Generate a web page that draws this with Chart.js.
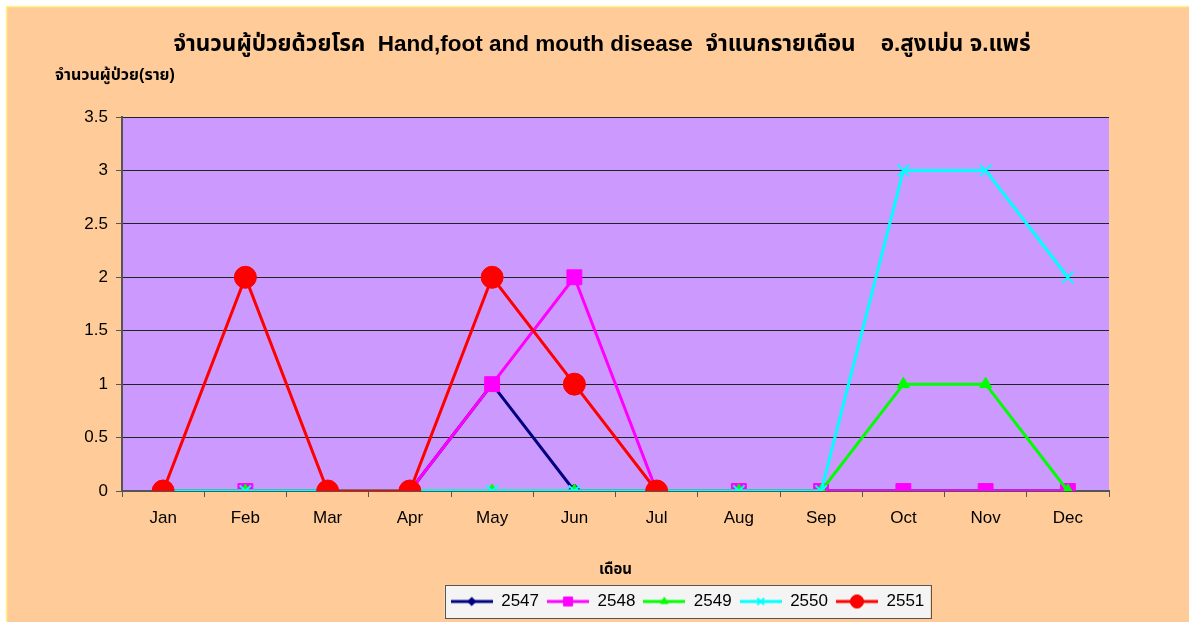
<!DOCTYPE html>
<html>
<head>
<meta charset="utf-8">
<script src="https://cdn.jsdelivr.net/npm/chart.js@4.4.1/dist/chart.umd.min.js"></script>
<style>
  html, body { margin: 0; padding: 0; background: #fff; }
  #wrap { width: 1189px; height: 622px; }
</style>
</head>
<body>
<div id="wrap"><canvas id="chart" width="1189" height="622"></canvas></div>
<script>
// data
const months = ["Jan", "Feb", "Mar", "Apr", "May", "Jun", "Jul", "Aug", "Sep", "Oct", "Nov", "Dec"];
const years = ["2547", "2548", "2549", "2550", "2551"];
const y2547 = [0, 0, 0, 0, 1, 0, 0, 0, 0, 0, 0, 0];
const y2548 = [0, 0, 0, 0, 1, 2, 0, 0, 0, 0, 0, 0];
const y2549 = [0, 0, 0, 0, 0, 0, 0, 0, 0, 1, 1, 0];
const y2550 = [0, 0, 0, 0, 0, 0, 0, 0, 0, 3, 3, 2];
const y2551 = [0, 2, 0, 0, 2, 1, 0, null, null, null, null, null];

const titleText = "จำนวนผู้ป่วยด้วยโรค  Hand,foot and mouth disease  จำแนกรายเดือน    อ.สูงเม่น จ.แพร่";
const yTitle = "จำนวนผู้ป่วย(ราย)";
const xTitle = "เดือน";

const FONT = "'Liberation Sans', Arial, 'Noto Sans Thai', sans-serif";

// style of each series: colour, marker, marker radius
const styles = [
  { color: "#000080", point: "rectRot", r: 7 },
  { color: "#FF00FF", point: "rect", r: 10.5 },
  { color: "#00FF00", point: "triangle", r: 7 },
  { color: "#00FFFF", point: "crossRot", r: 8 },
  { color: "#FF0000", point: "circle", r: 11 },
];
const values = [y2547, y2548, y2549, y2550, y2551];

// small canvas for each legend entry: line with the marker on it
function legendIcon(st) {
  const c = document.createElement("canvas");
  c.width = 42; c.height = 16;
  const g = c.getContext("2d");
  g.strokeStyle = st.color;
  g.lineWidth = 3;
  g.beginPath(); g.moveTo(0, 8); g.lineTo(42, 8); g.stroke();
  g.fillStyle = st.color;
  g.lineWidth = st.point === "crossRot" ? 2 : 1;
  Chart.helpers.drawPoint(g, { pointStyle: st.point, radius: st.r * 0.6, rotation: 0, borderWidth: 1 }, 21, 8);
  return c;
}
const icons = styles.map(legendIcon);

const datasets = years.map((y, i) => ({
  label: y,
  data: values[i],
  borderColor: styles[i].color,
  backgroundColor: styles[i].color,
  borderWidth: 3,
  pointStyle: styles[i].point,
  pointRadius: styles[i].r,
  pointHoverRadius: styles[i].r,
  pointBorderWidth: styles[i].point === "crossRot" ? 2 : 1,
  tension: 0,
  spanGaps: false,
  order: years.length - 1 - i, // last year drawn on top, like the original
}));

const bgPlugin = {
  id: "bg",
  afterLayout(chart) {
    // the legend in the original sits right of centre
    chart.legend.left += 133;
    chart.legend.right += 133;
  },
  beforeDraw(chart) {
    const ctx = chart.ctx;
    const { width, height, chartArea } = chart;
    ctx.save();
    ctx.fillStyle = "#fff";
    ctx.fillRect(0, 0, width, height);
    ctx.fillStyle = "#FFCC99";
    ctx.fillRect(6, 6, width - 6, height - 6);
    ctx.strokeStyle = "#FFF38A";
    ctx.lineWidth = 1.5;
    ctx.beginPath();
    ctx.moveTo(6.5, height); ctx.lineTo(6.5, 6.5); ctx.lineTo(width, 6.5);
    ctx.stroke();
    // plot area
    ctx.fillStyle = "#CC99FF";
    ctx.fillRect(chartArea.left, chartArea.top, chartArea.right - chartArea.left, chartArea.bottom - chartArea.top);
    // legend frame
    const hb = chart.legend.legendHitBoxes;
    if (hb && hb.length) {
      const x0 = Math.min(...hb.map(b => b.left)) - 6;
      const x1 = Math.max(...hb.map(b => b.left + b.width)) + 6;
      const y0 = Math.min(...hb.map(b => b.top)) - 8;
      const y1 = Math.max(...hb.map(b => b.top + b.height)) + 8;
      ctx.fillStyle = "#F4F4F4";
      ctx.fillRect(x0, y0, x1 - x0, y1 - y0);
      ctx.strokeStyle = "#555";
      ctx.lineWidth = 1;
      ctx.strokeRect(Math.round(x0) + 0.5, Math.round(y0) + 0.5, Math.round(x1 - x0), Math.round(y1 - y0));
    }
    // titles
    ctx.fillStyle = "#000";
    ctx.textBaseline = "middle";
    ctx.textAlign = "center";
    ctx.font = "bold 22.5px " + FONT;
    ctx.fillText(titleText, 602, 45);
    ctx.textAlign = "left";
    ctx.font = "bold 16px " + FONT;
    ctx.fillText(yTitle, 55, 76);
    ctx.restore();
  }
};

new Chart(document.getElementById("chart"), {
  type: "line",
  data: { labels: months, datasets },
  plugins: [bgPlugin],
  options: {
    responsive: false,
    animation: false,
    devicePixelRatio: 1,
    layout: { padding: { top: 117, right: 80, bottom: 2, left: 0 } },
    plugins: {
      title: { display: false },
      tooltip: { enabled: false },
      legend: {
        position: "bottom",
        reverse: true,
        labels: {
          usePointStyle: true,
          pointStyleWidth: 42,
          boxHeight: 16,
          padding: 8,
          color: "#000",
          font: { family: FONT, size: 17 },
          generateLabels(chart) {
            const items = Chart.defaults.plugins.legend.labels.generateLabels(chart);
            items.forEach(it => { it.pointStyle = icons[it.datasetIndex]; });
            return items;
          }
        }
      }
    },
    scales: {
      x: {
        offset: true,
        grid: { display: true, drawOnChartArea: false, offset: true, tickLength: 6, tickColor: "#555" },
        border: { color: "#555", width: 2 },
        ticks: { color: "#000", font: { family: FONT, size: 17 }, padding: 11 },
        title: { display: true, text: xTitle, color: "#000", font: { family: FONT, size: 15, weight: "bold" }, padding: { top: 22, bottom: 6 } },
        afterFit(scale) { scale.height = 94; }
      },
      y: {
        min: 0,
        max: 3.5,
        ticks: { stepSize: 0.5, color: "#000", font: { family: FONT, size: 17 }, padding: 8, callback: v => String(v) },
        grid: { color: "#222", lineWidth: 1, tickLength: 6, tickColor: "#555" },
        border: { color: "#555", width: 2 },
        afterFit(scale) { scale.width = 122; }
      }
    }
  }
});
</script>
</body>
</html>
